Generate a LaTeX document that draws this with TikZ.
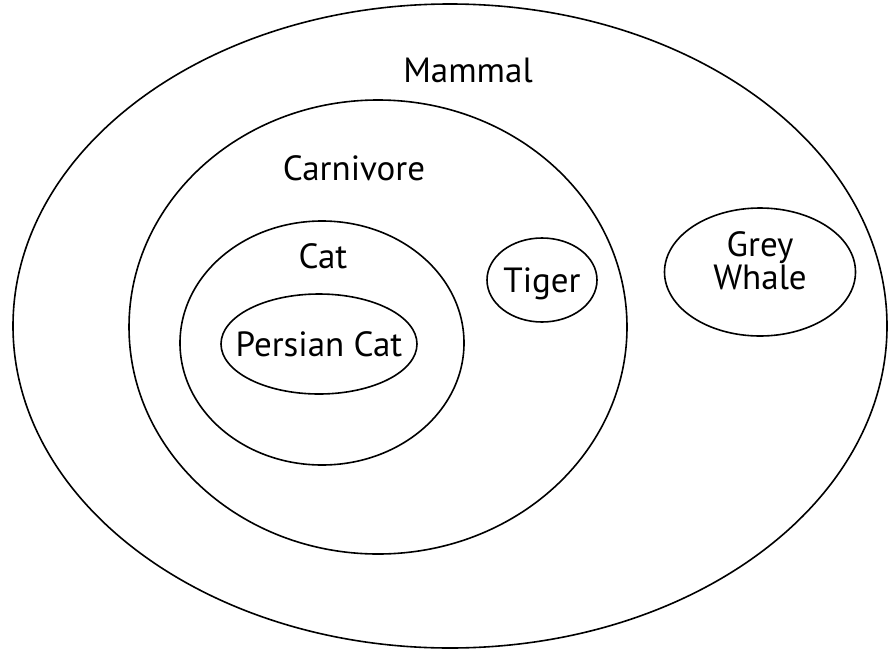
\documentclass[tikz,border=0pt]{standalone}
\usepackage{fontspec}
\setmainfont{PT Sans}
\usetikzlibrary{shapes.geometric}
\begin{document}
\begin{tikzpicture}[x=1pt,y=-1pt,
  set/.style={ellipse, draw, line width=1.6pt, inner sep=0pt},
  lbl/.style={font=\fontsize{35}{33}\selectfont, inner sep=0pt, align=center}]
\useasboundingbox (0,0) rectangle (888,648);
% nested sets
\node[set, minimum width=874, minimum height=644] (mammal) at (450,326) {};
\node[set, minimum width=498, minimum height=454] (carnivore) at (378,327) {};
\node[set, minimum width=284, minimum height=244] (cat) at (322,343) {};
\node[set, minimum width=196, minimum height=100] (persian) at (319,344) {};
\node[set, minimum width=110, minimum height=84] (tiger) at (542,280) {};
\node[set, minimum width=191, minimum height=128] (whale) at (760,272) {};
% set names
\node[lbl] (mammallbl) at (468,70) {Mammal};
\node[lbl] (carnlbl) at (354,168) {Carnivore};
\node[lbl] (catlbl) at (323,256) {Cat};
\node[lbl] (persianlbl) at (persian.center) {Persian Cat};
\node[lbl] (tigerlbl) at ([yshift=-4]tiger.center) {Tiger};
\node[lbl] (whalelbl) at ([yshift=11]whale.center) {Grey\\Whale};
\end{tikzpicture}
\end{document}
